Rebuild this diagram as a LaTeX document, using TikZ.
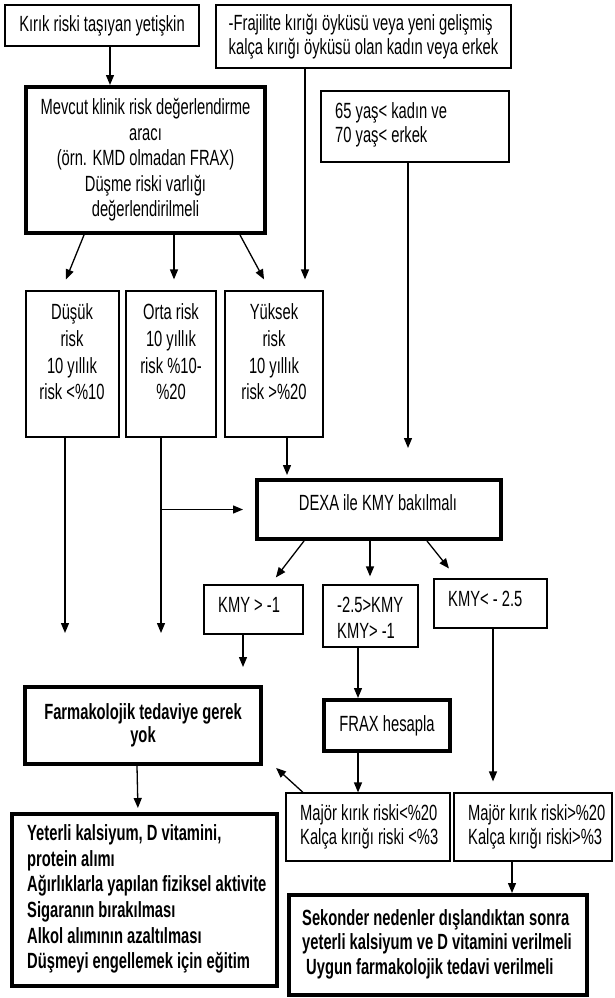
\documentclass[tikz,border=0pt]{standalone}
\usepackage{fontspec}
\setmainfont{Liberation Sans}[FakeStretch=0.67]
\usetikzlibrary{arrows.meta}
\begin{document}
\begin{tikzpicture}[x=1pt,y=-1pt,
  font=\fontsize{22}{25.5}\selectfont,
  plainbox/.style={draw, line width=1.2pt, inner sep=0pt, align=center},
  heavybox/.style={draw, line width=4pt, inner sep=0pt, align=center},
  ltxt/.style={inner sep=0pt, align=left, anchor=west},
  ctxt/.style={inner sep=0pt, align=center},
  conn/.style={line width=1.3pt, -{Triangle[length=10pt,width=8pt]}},
  tall/.style={font=\fontsize{22}{26.7}\selectfont},
  tight/.style={font=\fontsize{22}{23.5}\selectfont},
  boldtxt/.style={font=\fontsize{22}{25.6}\selectfont\bfseries}
]
\useasboundingbox (0,0) rectangle (614,998);

% --- top row
\node[plainbox, minimum width=194pt, minimum height=41pt] (kirik) at (102,25.5)
  {Kırık riski taşıyan yetişkin};
\node[plainbox, tight, align=left, minimum width=295pt, minimum height=63pt] (fraj) at (363.5,36.5)
  {-Frajilite kırığı öyküsü veya yeni gelişmiş\\kalça kırığı öyküsü olan kadın veya erkek};

% --- clinical risk assessment
\node[heavybox, minimum width=239pt, minimum height=146pt] (mevcut) at (145.5,160)
  {Mevcut klinik risk değerlendirme\\aracı\\(örn. KMD olmadan FRAX)\\Düşme riski varlığı\\değerlendirilmeli};
\node[plainbox, minimum width=188pt, minimum height=71pt] (age) at (415,126.5) {};
\node[ltxt, font=\fontsize{22}{24}\selectfont] (agetxt) at (335,125) {65 yaş< kadın ve\\70 yaş< erkek};

% --- risk classes
\node[plainbox, minimum width=93pt, minimum height=146pt] (dusuk) at (72.5,364) {};
\node[ctxt, tall] (dusuktxt) at (72,352) {Düşük\\risk\\10 yıllık\\risk <\%10};
\node[plainbox, minimum width=90pt, minimum height=146pt] (orta) at (171,364) {};
\node[ctxt, tall] (ortatxt) at (171,352) {Orta risk\\10 yıllık\\risk \%10-\\\%20};
\node[plainbox, minimum width=98pt, minimum height=146pt] (yuksek) at (274,364) {};
\node[ctxt, tall] (yuksektxt) at (274,352) {Yüksek\\risk\\10 yıllık\\risk >\%20};

% --- DEXA
\node[heavybox, minimum width=244pt, minimum height=59pt] (dexa) at (379,509.5) {};
\node[ctxt] (dexatxt) at (378,503) {DEXA ile KMY bakılmalı};

% --- KMY results
\node[plainbox, minimum width=99pt, minimum height=49pt] (kmya) at (253.5,609.5) {};
\node[ltxt] (kmyatxt) at (218,605) {KMY > -1};
\node[plainbox, minimum width=95pt, minimum height=62pt] (kmyb) at (370.5,616) {};
\node[ltxt, font=\fontsize{22}{26}\selectfont] (kmybtxt) at (337,618) {-2.5>KMY\\KMY> -1};
\node[plainbox, minimum width=113pt, minimum height=49pt] (kmyc) at (490.5,603.5) {};
\node[ltxt] (kmyctxt) at (448,599) {KMY< - 2.5};

% --- decisions
\node[heavybox, minimum width=236pt, minimum height=77pt, font=\fontsize{22}{23}\selectfont\bfseries] (farm) at (143,725.5)
  {Farmakolojik tedaviye gerek\\yok};
\node[heavybox, minimum width=126pt, minimum height=51pt] (frax) at (387,725.5) {FRAX hesapla};

\node[plainbox, minimum width=164pt, minimum height=68pt] (maja) at (368,827) {};
\node[ltxt, font=\fontsize{22}{24}\selectfont] (majatxt) at (300,827)
  {Majör kırık riski<\%20\\Kalça kırığı riski <\%3};
\node[plainbox, minimum width=158pt, minimum height=68pt] (majb) at (533,827) {};
\node[ltxt, font=\fontsize{22}{24}\selectfont] (majbtxt) at (468,827)
  {Majör kırık riski>\%20\\Kalça kırığı riski>\%3};

\node[heavybox, minimum width=265pt, minimum height=172pt] (yeterli) at (144.5,900) {};
\node[ltxt, boldtxt] (yeterlitxt) at (27,899)
  {Yeterli kalsiyum, D vitamini,\\protein alımı\\Ağırlıklarla yapılan fiziksel aktivite\\Sigaranın bırakılması\\Alkol alımının azaltılması\\Düşmeyi engellemek için eğitim};
\node[heavybox, minimum width=298pt, minimum height=100pt] (sekonder) at (438,945) {};
\node[ltxt, font=\fontsize{22}{24.5}\selectfont\bfseries] (sekondertxt) at (302,944)
  {Sekonder nedenler dışlandıktan sonra\\yeterli kalsiyum ve D vitamini verilmeli\\\hspace*{4pt}Uygun farmakolojik tedavi verilmeli};

% --- connectors
\draw[conn] ([xshift=8pt]kirik.south) -- ([xshift=-35.5pt]mevcut.north);
\draw[conn, shorten >=11.8pt] ([xshift=-61.5pt]mevcut.south) -- ([xshift=-11pt]dusuk.north);
\draw[conn, shorten >=11pt] ([xshift=28.5pt]mevcut.south) -- ([xshift=3pt]orta.north);
\draw[conn, shorten >=12.5pt] ([xshift=94.5pt]mevcut.south) -- ([xshift=-4pt]yuksek.north);
\draw[conn, shorten >=11pt] ([xshift=-58.5pt]fraj.south) -- ([xshift=31pt]yuksek.north);
\draw[conn, shorten >=30pt] ([xshift=-7pt]age.south) -- ([xshift=29pt]dexa.north);
\draw[conn, shorten >=3pt] ([xshift=13pt]yuksek.south) -- ([xshift=-92pt]dexa.north);

\coordinate (ortadrop) at ([xshift=-10pt]orta.south);
\draw[conn, shorten >=52pt] ([xshift=-7.5pt]dusuk.south) -- ([xshift=-78pt]farm.north);
\draw[conn, shorten >=52pt] (ortadrop) -- ([xshift=18pt]farm.north);
\draw[conn, shorten >=12pt] (ortadrop |- dexa.west) -- (dexa.west);

\draw[conn, shorten >=8.8pt] ([xshift=-75pt]dexa.south) -- ([xshift=17pt]kmya.north);
\draw[conn, shorten >=8pt] ([xshift=-9pt]dexa.south) -- ([xshift=-0.5pt]kmyb.north);
\draw[conn, shorten >=12.7pt] ([xshift=48pt]dexa.south) -- ([xshift=-33.6pt]kmyc.north);

\draw[conn, shorten >=18pt] ([xshift=-10.5pt]kmya.south) -- ([xshift=100pt]farm.north);
\draw[conn] ([xshift=-12.5pt]kmyb.south) -- ([xshift=-29pt]frax.north);
\draw[conn, shorten >=11pt] ([xshift=2.5pt]kmyc.south) -- ([xshift=-40pt]majb.north);

\draw[conn] ([xshift=-29pt]frax.south) -- ([xshift=-10pt]maja.north);
\draw[conn, shorten >=17.7pt] ([xshift=-65pt]maja.north) -- ([yshift=-30.5pt]farm.east);
\draw[conn, shorten >=4pt] ([xshift=-6pt]farm.south) -- ([xshift=-6.5pt]yeterli.north);
\draw[conn] ([xshift=-21pt]majb.south) -- ([xshift=74pt]sekonder.north);
\end{tikzpicture}
\end{document}
